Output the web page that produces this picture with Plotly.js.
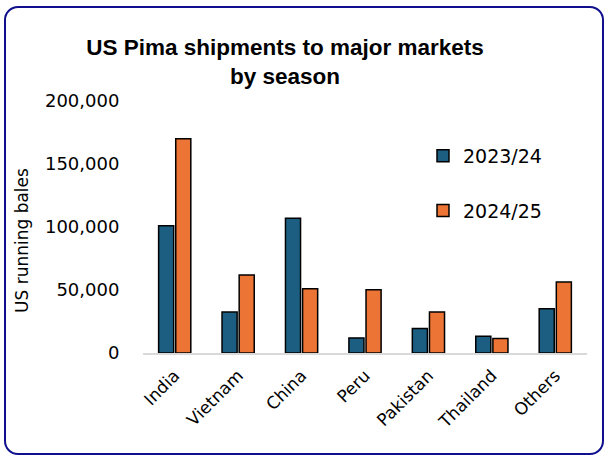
<!DOCTYPE html>
<html>
<head>
<meta charset="utf-8">
<script src="https://cdn.plot.ly/plotly-3.0.1.min.js"></script>
<style>
html,body{margin:0;padding:0;background:#fff;}
#wrap{position:relative;width:606px;height:456px;}
#chart{width:606px;height:456px;}
#frame{position:absolute;left:4px;top:6px;width:596px;height:445px;border:2.5px solid #10108f;border-radius:14px;pointer-events:none;}
</style>
</head>
<body>
<div id="wrap"><div id="chart"></div><div id="frame"></div></div>
<script>
const categories = ["India","Vietnam","China","Peru","Pakistan","Thailand","Others"];
const seriesNames = ["2023/24","2024/25"];
const values2023 = [101000, 32500, 107000, 12000, 19500, 13200, 35200];
const values2024 = [170000, 62000, 51000, 50200, 32500, 11600, 56300];
const yTickVals = [0, 50000, 100000, 150000, 200000];
const yTickText = ["0","50,000","100,000","150,000","200,000"];
const yTitle = "US running bales";
const chartTitle = "US Pima shipments to major markets<br>by season";

const font = "DejaVu Sans, sans-serif";
const traces = [
  {type:"bar", name:seriesNames[0], x:categories, y:values2023, legendgroup:"a",
   marker:{color:"#1b5e82", line:{color:"#000", width:1.5}}},
  {type:"bar", name:seriesNames[1], x:categories, y:values2024, legendgroup:"b",
   marker:{color:"#ec7434", line:{color:"#000", width:1.5}}}
];
const layout = {
  width:606, height:456,
  margin:{l:143, r:19, t:101, b:103},
  paper_bgcolor:"#fff", plot_bgcolor:"#fff",
  barmode:"group", bargap:0.46, bargroupgap:0.12,
  title:{text:chartTitle,
    font:{family:"Liberation Sans, Arial, sans-serif", size:22.5, color:"#000", weight:"bold"},
    x:285/606, xref:"container", xanchor:"center", y:1-55/456, yref:"container", yanchor:"top"},
  xaxis:{showline:true, linecolor:"#d9d9d9", linewidth:2, tickangle:-45,
    ticks:"outside", ticklen:4, tickcolor:"rgba(0,0,0,0)",
    tickfont:{family:font, size:17, color:"#000"}, showgrid:false, fixedrange:true},
  yaxis:{range:[0,200000], tickvals:yTickVals, ticktext:yTickText,
    showgrid:false, zeroline:false, showline:false,
    ticks:"outside", ticklen:19, tickcolor:"rgba(0,0,0,0)",
    tickfont:{family:font, size:18, color:"#000"}},
  annotations:[{text:yTitle, textangle:-90, xref:"paper", yref:"paper",
    x:(22-143)/444, y:(353-241)/252, xanchor:"center", yanchor:"middle", showarrow:false,
    font:{family:font, size:17, color:"#000"}}],
  showlegend:true,
  legend:{x:(423-143)/444, xanchor:"left", y:(353-137)/252, yanchor:"top", tracegroupgap:27,
    font:{family:font, size:19, color:"#000"}, bgcolor:"rgba(0,0,0,0)", itemwidth:30}
};
Plotly.newPlot("chart", traces, layout, {displayModeBar:false, staticPlot:true});
</script>
</body>
</html>
